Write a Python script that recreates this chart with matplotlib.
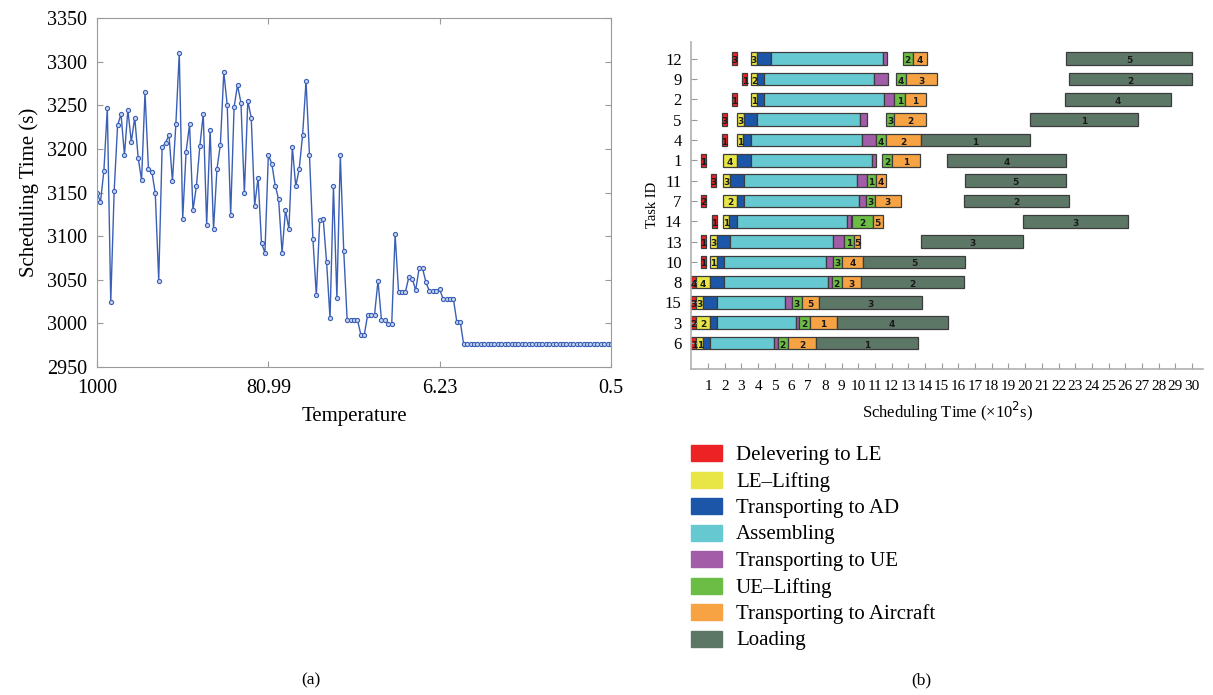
import matplotlib
matplotlib.use("Agg")
import matplotlib.pyplot as plt
from matplotlib.patches import Rectangle

plt.rcParams['font.family'] = ['Liberation Serif', 'DejaVu Serif']

# (a) scheduling time over the annealing run
temp_ticks = ["1000", "80.99", "6.23", "0.5"]
sched_time = [
    3150, 3139, 3175, 3247, 3024, 3152, 3227, 3240, 3193, 3245,
    3208, 3236, 3190, 3164, 3265, 3177, 3174, 3149, 3049, 3202,
    3207, 3216, 3163, 3228, 3310, 3120, 3197, 3228, 3130, 3157,
    3203, 3240, 3113, 3222, 3108, 3177, 3205, 3288, 3250, 3124,
    3248, 3273, 3253, 3149, 3255, 3236, 3135, 3167, 3092, 3081,
    3193, 3183, 3158, 3142, 3081, 3130, 3108, 3202, 3157, 3177,
    3216, 3278, 3193, 3097, 3032, 3119, 3120, 3070, 3006, 3157,
    3029, 3193, 3083, 3004, 3004, 3004, 3004, 2987, 2987, 3010,
    3010, 3010, 3049, 3004, 3004, 2999, 2999, 3102, 3036, 3036,
    3036, 3053, 3051, 3038, 3063, 3063, 3047, 3037, 3037, 3037,
    3039, 3028, 3028, 3028, 3028, 3002, 3002,
] + [2976] * 44

# (b) Gantt chart, rows listed top to bottom
tasks = ["12", "9", "2", "5", "4", "1", "11", "7", "14", "13", "10", "8", "15", "3", "6"]

deliver_start = [2.42, 3.04, 2.42, 1.84, 1.84, 0.58, 1.18, 0.58, 1.22, 0.58, 0.58, 0.0, 0.0, 0.0, 0.0]
deliver_end = [2.72, 3.36, 2.76, 2.14, 2.14, 0.88, 1.48, 0.88, 1.52, 0.88, 0.88, 0.28, 0.28, 0.28, 0.28]
deliver_lbl = ["3", "1", "1", "3", "1", "1", "3", "2", "1", "1", "1", "4", "3", "2", "1"]

lift_start = [3.56, 3.56, 3.56, 2.72, 2.72, 1.92, 1.92, 1.92, 1.92, 1.12, 1.12, 0.28, 0.28, 0.28, 0.28]
lift_end = [3.92, 3.95, 3.95, 3.16, 3.12, 2.72, 2.32, 2.72, 2.28, 1.52, 1.52, 1.12, 0.72, 1.12, 0.72]
lift_lbl = ["3", "2", "1", "3", "1", "4", "3", "2", "1", "3", "1", "4", "3", "2", "1"]

to_ad_end = [4.78, 4.37, 4.37, 3.95, 3.58, 3.58, 3.16, 3.16, 2.72, 2.32, 1.96, 1.96, 1.52, 1.52, 1.12]
assemble_end = [11.50, 10.97, 11.56, 10.11, 10.23, 10.83, 9.91, 10.03, 9.31, 8.51, 8.07, 8.21, 5.61, 6.27, 4.96]
to_ue_end = [11.71, 11.77, 12.16, 10.51, 11.07, 11.05, 10.51, 10.45, 9.55, 9.15, 8.47, 8.41, 6.02, 6.47, 5.16]

ue_lift_start = [12.67, 12.27, 12.16, 11.65, 11.07, 11.45, 10.51, 10.45, 9.65, 9.15, 8.47, 8.41, 6.02, 6.47, 5.16]
ue_lift_end = [13.27, 12.86, 12.80, 12.16, 11.65, 12.05, 11.07, 11.01, 10.87, 9.75, 9.05, 9.01, 6.61, 7.11, 5.78]
ue_lift_lbl = ["2", "4", "1", "3", "4", "2", "1", "3", "2", "1", "3", "2", "3", "2", "2"]

air_end = [14.10, 14.70, 14.04, 14.06, 13.76, 13.70, 11.65, 12.55, 11.47, 10.11, 10.27, 10.17, 7.63, 8.71, 7.47]
air_lbl = ["4", "3", "1", "2", "2", "1", "4", "3", "5", "5", "4", "3", "5", "1", "2"]

load_start = [22.45, 22.61, 22.39, 20.29, 13.76, 15.34, 16.38, 16.32, 19.86, 13.78, 10.27, 10.17, 7.63, 8.71, 7.47]
load_end = [30.02, 30.02, 28.76, 26.76, 20.29, 22.43, 22.45, 22.63, 26.17, 19.89, 16.40, 16.36, 13.80, 15.36, 13.60]
load_lbl = ["5", "2", "4", "1", "1", "4", "5", "2", "3", "3", "5", "2", "3", "4", "1"]

stage_names = ["Delevering to LE", "LE\u2013Lifting", "Transporting to AD", "Assembling",
               "Transporting to UE", "UE\u2013Lifting", "Transporting to Aircraft", "Loading"]
stage_colors = ["#ed2224", "#e8e547", "#1c56a8", "#66c9d2",
                "#a25ca8", "#6cbd45", "#f7a344", "#5d7767"]

stages = [
    (deliver_start, deliver_end, deliver_lbl),
    (lift_start, lift_end, lift_lbl),
    (lift_end, to_ad_end, None),
    (to_ad_end, assemble_end, None),
    (assemble_end, to_ue_end, None),
    (ue_lift_start, ue_lift_end, ue_lift_lbl),
    (ue_lift_end, air_end, air_lbl),
    (load_start, load_end, load_lbl),
]

fig = plt.figure(figsize=(12.13, 6.95), dpi=100)
grey = "#9a9a9a"

# ---- (a) line chart
ax1 = fig.add_axes([0.080, 0.472, 0.4237, 0.502])
ax1.plot(range(len(sched_time)), sched_time, color="#3a5fb5", lw=1.0,
         marker="o", ms=3, mfc="#c4d2ef", mec="#3a5fb5", mew=0.8)
ax1.set_xlim(0, 150)
ax1.set_ylim(2950, 3350)
ax1.set_xticks([0, 50, 100, 150])
ax1.set_xticklabels(temp_ticks)
ax1.set_yticks(range(2950, 3351, 50))
ax1.tick_params(direction="in", top=True, right=True, color=grey, length=4,
                labelsize=14.5)
ax1.tick_params(axis="y", pad=7)
ax1.tick_params(axis="x", pad=9)
for s in ax1.spines.values():
    s.set_color(grey)
ax1.set_xlabel("Temperature", fontsize=15, labelpad=6)
ax1.set_ylabel("Scheduling Time (s)", fontsize=15, labelpad=6)

# ---- (b) Gantt chart
ax2 = fig.add_axes([0.570, 0.469, 0.4218, 0.471])
n = len(tasks)
rows = [n - 1 - i for i in range(n)]
bar_h = 0.62
for (starts, ends, lbls), color in zip(stages, stage_colors):
    for i in range(n):
        x0, x1 = starts[i], ends[i]
        ax2.barh(rows[i], x1 - x0, left=x0, height=bar_h, color=color,
                 edgecolor="#3c3c3c", linewidth=0.9)
        if lbls is not None:
            ax2.text((x0 + x1) / 2, rows[i] - 0.1, lbls[i], ha="center", va="center",
                     fontsize=6.5, fontweight="bold", color="#1a1a1a",
                     family="DejaVu Sans")

ax2.set_xlim(0, 30.66)
ax2.set_ylim(-1.28, 14.84)
ax2.set_xticks(range(1, 31))
ax2.set_yticks(rows)
ax2.set_yticklabels(tasks)
ax2.tick_params(direction="in", color=grey, length=4, labelsize=11)
ax2.tick_params(axis="x", pad=8)
ax2.tick_params(axis="y", labelsize=12, pad=7)
for side in ("top", "right"):
    ax2.spines[side].set_visible(False)
for side in ("left", "bottom"):
    ax2.spines[side].set_color("#b0b0b0")
    ax2.spines[side].set_linewidth(1.2)
ax2.set_xlabel("Scheduling Time (\u00d710$^2$s)", fontsize=12, labelpad=5)
ax2.set_ylabel("Task ID", fontsize=10.5, labelpad=4)

# legend
W, H = 1213, 695
for k, (name, color) in enumerate(zip(stage_names, stage_colors)):
    yc = 453 + k * 26.5
    fig.add_artist(Rectangle((691 / W, 1 - (yc + 8) / H), 31 / W, 16 / H,
                             transform=fig.transFigure, color=color))
    fig.text(736 / W, 1 - (yc + 2.5) / H, name, fontsize=15, va="center", ha="left")

fig.text(311 / W, 1 - 680 / H, "(a)", fontsize=12.5, ha="center", va="center")
fig.text(921 / W, 1 - 680 / H, "(b)", fontsize=12.5, ha="center", va="center")

fig.savefig("out.png", dpi=100)
